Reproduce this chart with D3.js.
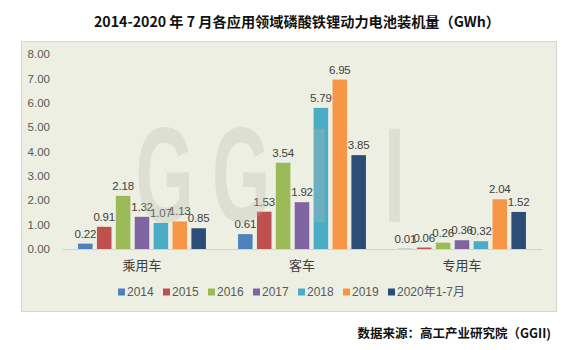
<!DOCTYPE html>
<html><head><meta charset="utf-8">
<script src="https://cdn.jsdelivr.net/npm/d3@7"></script>
<style>
html,body{margin:0;padding:0;background:#fff;}
svg{display:block;}
</style></head>
<body>
<script>
const categories = ["乘用车", "客车", "专用车"];
const years = ["2014", "2015", "2016", "2017", "2018", "2019", "2020年1-7月"];
const v2014 = [0.22, 0.61, 0.01];
const v2015 = [0.91, 1.53, 0.06];
const v2016 = [2.18, 3.54, 0.26];
const v2017 = [1.32, 1.92, 0.36];
const v2018 = [1.07, 5.79, 0.32];
const v2019 = [1.13, 6.95, 2.04];
const v2020 = [0.85, 3.85, 1.52];
const yTicks = [0, 1, 2, 3, 4, 5, 6, 7, 8];
const colors = ["#4f81bd", "#c0504d", "#9bbb59", "#8064a2", "#4bacc6", "#f79646", "#2c4d75"];
const titleText = "2014-2020 年 7 月各应用领域磷酸铁锂动力电池装机量（GWh）";
const sourceText = "数据来源：高工产业研究院（GGII)";
const watermark = ["G", "G", "I", "I"];

const seriesValues = [v2014, v2015, v2016, v2017, v2018, v2019, v2020];
const W = 572, H = 350;
const svg = d3.select("body").append("svg").attr("width", W).attr("height", H);

// panel
svg.append("rect").attr("x", 21.5).attr("y", 41.5).attr("width", 535).attr("height", 270)
  .attr("fill", "#edefe3").attr("stroke", "#d6d8cf");

// title
svg.append("text").attr("x", 297).attr("y", 27).attr("text-anchor", "middle")
  .attr("font-family", "'Noto Sans CJK SC', sans-serif").attr("font-weight", 700)
  .attr("font-size", 14.2).attr("fill", "#111").text(titleText);

const x0 = d3.scaleBand().domain(categories).range([62, 542]);
const x1 = d3.scaleBand().domain(years).range([0, x0.bandwidth()]).paddingInner(0.23).paddingOuter(0.85);
const y = d3.scaleLinear().domain([0, 8]).range([249, 54]);

// y axis labels
const ya = svg.append("g").attr("transform", "translate(50,0)")
  .call(d3.axisLeft(y).tickValues(yTicks).tickFormat(d3.format(".2f")).tickSize(0).tickPadding(0));
ya.select(".domain").remove();
ya.selectAll("text").attr("font-family", "'Liberation Sans', Arial, sans-serif").attr("font-size", 11.5).attr("fill", "#595959");

// watermark (drawn under labels)
const wmX = [164.5, 241, 319.5, 394.5];
const wm = svg.append("g").attr("transform", "scale(0.55,1)");

// bars
const groups = svg.append("g").selectAll("g").data(categories).join("g")
  .attr("transform", d => `translate(${x0(d)},0)`);
groups.each(function(cat, ci) {
  const g = d3.select(this);
  const data = years.map((yr, si) => ({yr, si, v: seriesValues[si][ci]}));
  g.selectAll("rect").data(data).join("rect")
    .attr("x", d => x1(d.yr)).attr("width", x1.bandwidth())
    .attr("y", d => y(d.v)).attr("height", d => y(0) - y(d.v))
    .attr("fill", d => colors[d.si]);
});

wm.selectAll("text").data(watermark).join("text")
  .attr("x", (d, i) => wmX[i] / 0.55).attr("y", 222).attr("text-anchor", "middle")
  .attr("font-family", "'Liberation Sans', Arial, sans-serif").attr("font-weight", 700)
  .attr("font-size", 136).attr("fill", "#b8bab0").attr("fill-opacity", 0.3).text(d => d);
wm.raise();

groups.each(function(cat, ci) {
  const g = d3.select(this);
  const data = years.map((yr, si) => ({yr, si, v: seriesValues[si][ci]}));
  g.selectAll("text").data(data).join("text")
    .attr("x", d => x1(d.yr) + x1.bandwidth() / 2).attr("y", d => y(d.v) - 6)
    .attr("text-anchor", "middle").attr("font-family", "'Liberation Sans', Arial, sans-serif")
    .attr("font-size", 11.5).attr("letter-spacing", -0.2).attr("fill", "#404040").text(d => d.v.toFixed(2));
});
groups.raise();

// category axis
const xa = svg.append("g").attr("transform", "translate(0,249)")
  .call(d3.axisBottom(x0).tickSize(0).tickPadding(12));
xa.select(".domain").attr("stroke", "#d3d5cc");
xa.selectAll("text").attr("font-family", "'Noto Sans CJK SC', sans-serif").attr("font-size", 13).attr("fill", "#404040");

// legend
const lg = svg.append("g").selectAll("g").data(years).join("g")
  .attr("transform", (d, i) => `translate(${118 + 45 * i},292)`);
lg.append("rect").attr("x", 0).attr("y", -3.5).attr("width", 7).attr("height", 7).attr("fill", (d, i) => colors[i]);
lg.append("text").attr("x", 9).attr("dy", "0.35em").attr("font-family", "'Liberation Sans', 'Noto Sans CJK SC', sans-serif")
  .attr("font-size", 12).attr("fill", "#595959").text(d => d);

// source
svg.append("text").attr("x", 551).attr("y", 338).attr("text-anchor", "end")
  .attr("font-family", "'Noto Sans CJK SC', sans-serif").attr("font-weight", 700)
  .attr("font-size", 12.5).attr("fill", "#111").text(sourceText);
</script>
</body></html>
